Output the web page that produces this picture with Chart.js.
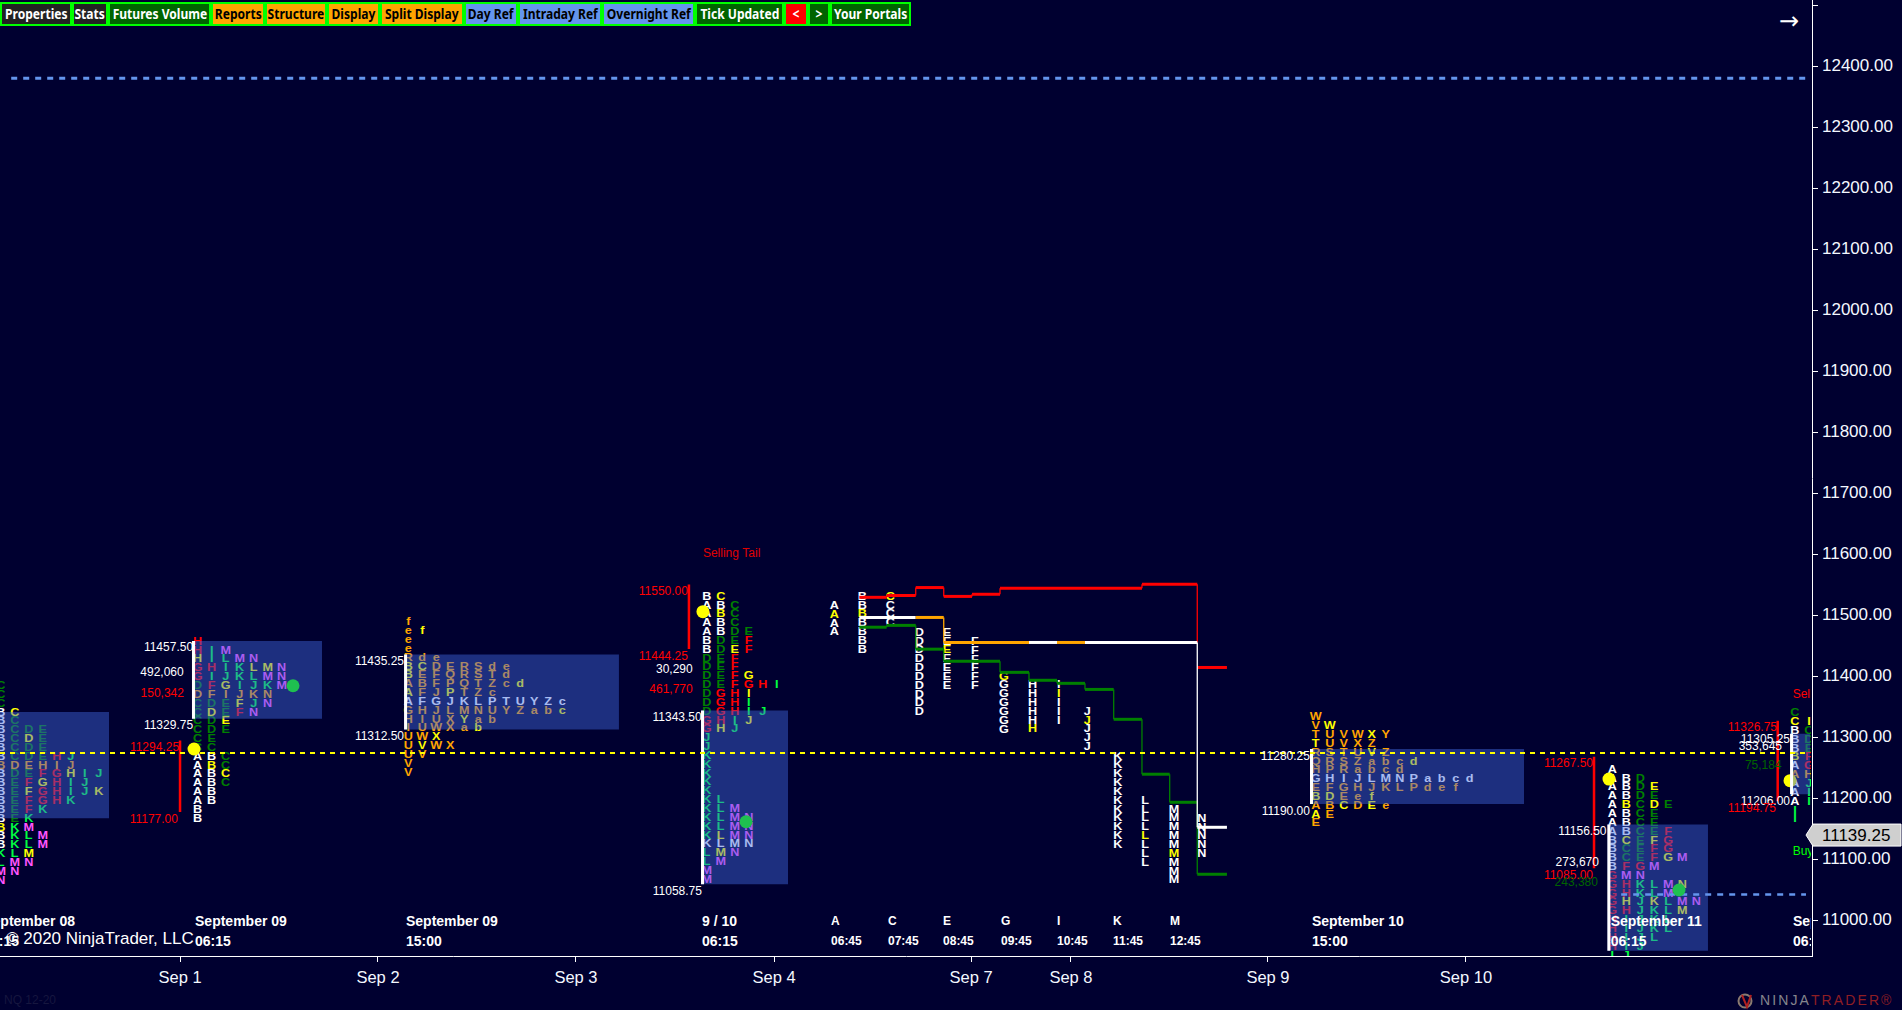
<!DOCTYPE html>
<html>
<head>
<meta charset="utf-8">
<title>NQ 12-20</title>
<script src="https://cdn.jsdelivr.net/npm/chart.js@4"></script>
<style>
  html, body { margin: 0; padding: 0; background: #000030; overflow: hidden; }
  canvas { position: absolute; left: 0; top: 0; }
  #toolbar { position: absolute; left: 0; top: 2px; display: flex; height: 24px; }
  #toolbar div {
    box-sizing: border-box; height: 24px; border: 2px solid #00ff00; text-align: center;
    font: bold 14px/19px "Noto Sans", sans-serif; white-space: nowrap; overflow: hidden;
  }
  #toolbar span { display: inline-block; transform: scaleX(0.86); transform-origin: center; margin: 0 -10px; }
</style>
</head>
<body>
<canvas id="chart" width="1902" height="1010"></canvas>
<div id="toolbar"></div>
<script>
// toolbar
const buttonLabels = ['Properties', 'Stats', 'Futures Volume', 'Reports', 'Structure', 'Display', 'Split Display', 'Day Ref', 'Intraday Ref', 'Overnight Ref', 'Tick Updated', '<', '>', 'Your Portals'];
const buttonWidths = [72, 36, 103, 54, 62, 53, 84, 54, 84, 93, 89, 24, 22, 81];
const buttonFills = ['#222222', '#222222', '#006400', '#ffa500', '#ffa500', '#ffa500', '#ffa500', '#6495ed', '#6495ed', '#6495ed', '#006400', '#ff0000', '#006400', '#006400'];
const buttonInks = ['#fff', '#fff', '#fff', '#000', '#000', '#000', '#000', '#000', '#000', '#000', '#fff', '#fff', '#fff', '#fff'];

// price axis
const priceMin = 10941;
const priceMax = 12508.2;
const lastPrice = 11139.25;

// time axis, one unit is one letter column
const columnMax = 129.43;
const dateLabels = ['Sep 1', 'Sep 2', 'Sep 3', 'Sep 4', 'Sep 7', 'Sep 8', 'Sep 9', 'Sep 10'];
const dateColumns = [12.86, 27, 41.14, 55.29, 69.36, 76.5, 90.57, 104.71];

// letter profiles. ~ white row, ^ orange row, * yellow letter
const sep08Rows = ['C', 'C', 'C', 'B *C', 'B C', 'B C D E', 'B C *D E', 'B C D E', 'B C D E H J', '^ B D E H I J', 'B D E F G *H I J', 'B E F *G H I J', 'B E *F G H I J *K', 'B E F G H K', 'B E F K', 'B E K', '*B K M', 'B K L M', 'B K L M', 'K L *M', 'L M N', 'M N', 'N'];
const sep09DayRows = ['H', 'H I M', '*H I L M N', 'G H I K *L *M N', 'G I J K L M N', 'D F *G I J K M', '^ D F I J K N', 'C D E *F J N', 'C *D E F N', 'C D *E', 'C D E', 'C E', 'C C', 'A B C', 'A *B C', 'A B *C', 'A B C', 'A B', 'A B', 'B', 'B'];
const sep09NightRows = ['f', 'e *f', 'e', 'e', 'R d e', '*B *C D E R S d e', '*B E F Q R S T d', 'A B F P Q T Z c *d', '*A F J *P T Z c', '~ A F G J K L P T U Y Z c', 'G H J L M N U Y Z a b *c', 'H I U X *Y a b', 'I U W X a *b', 'U W *X', 'U *V W X', 'U V', 'V', 'V'];
const sep10DayRows = ['B *C', 'A B C', 'A *B C', 'A B C', 'A B D E', 'B D E F', 'B D *E F', 'D E F', 'D E F', 'D E F *G', 'D E F G H I', 'D G H *I', 'D G H I', 'D G H I J', 'G H I *J', 'G *H J', 'J', 'J', 'K', 'K', 'K', 'K', 'K', 'K L', 'K L M', 'K L M N', 'K L M N', 'K *L M N', '~ K L M N', 'L *M N', 'L M', 'M', 'M'];
const sep10NightRows = ['W', 'V *W', 'T U V W *X Y', '*T U V X Z', 'R S T U *V Z', 'Q R S Z a b c *d', 'H P R a b c d', '~ G H I J L M N P a b c d', 'E F G H J K L P d e f', '*B *D E e *f', 'A B *C D *E e', '*A E', 'E'];
const sep11DayRows = ['A', 'A B D', 'A B D *E', 'A B D E', 'A *B C *D E', 'A B C E', 'A B C E', 'A B C E F', 'B *C E *F G', 'B C E F G', 'B C E F *G M', 'B F G M', 'G M N', 'G H K L M *N', 'G H K L M', 'G *H J *K L M N', 'G H J K L *M', 'H I J K L', 'H I J K L', 'H I J L', 'H I J', 'I J'];
const sep11LastRows = ['C', '*C *I', 'B C', 'B D', 'B E', '*B F', 'A G', '^ A H', 'A J', 'A I', 'A I', 'I', 'I'];

const profileRows = [sep08Rows, sep09DayRows, sep09NightRows, sep10DayRows, sep10NightRows, sep11DayRows, sep11LastRows];
const profileColumns = [0.05, 14.12, 29.16, 50.48, 93.98, 115.16, 128.21];
const profileTops = [11383.6, 11456.2, 11488, 11530, 11332.3, 11246.3, 11339];
const profileNight = [false, false, true, false, true, false, false];
const rowStep = 14.5;

// single column half hour profile
const splitLetters = ['A', 'B', 'C', 'D', 'E', 'F', 'G', 'H', 'I', 'J', 'K', 'L', 'M', 'N'];
const splitColumns = [59.59, 61.59, 63.59, 65.66, 67.64, 69.64, 71.71, 73.76, 75.62, 77.66, 79.84, 81.79, 83.86, 85.84];
const splitTops = [11515, 11530, 11530, 11471, 11471, 11456, 11399, 11385, 11385, 11341.5, 11268, 11195.6, 11181, 11166];
const splitCounts = [4, 7, 4, 10, 7, 6, 7, 6, 5, 5, 11, 8, 9, 5];
const splitYellow = [1, 2, 0, -1, 2, -1, 0, 5, 1, 1, -1, 4, 5, -1];

// value areas
const areaLeft = [-1, 13.71, 28.86, 50.07, 93.57, 114.81, 127.86];
const areaRight = [7.79, 23, 44.21, 56.29, 108.86, 122, 129.29];
const areaHigh = [11341, 11457.5, 11435.25, 11343.5, 11280.25, 11156.5, 11305.25];
const areaLow = [11167, 11329.75, 11312.5, 11058.75, 11190, 10949.5, 11206];

// tails
const tailColumns = [12.86, 49.21, 113.86, 126.98];
const tailHigh = [11294.25, 11550, 11267.5, 11326.75];
const tailLow = [11177, 11444.25, 11085, 11194.75];

// markers
const openColumns = [13.86, 50.21, 114.93, 127.86];
const openPrices = [11280.3, 11505.4, 11231.1, 11228.4];
const pocColumns = [20.93, 53.29, 119.93];
const pocPrices = [11384, 11161.1, 11049.2];

// reference levels
const yellowLevel = 11273.8;
const blueLevel = 12380;
const overnightLevel = 11042;

// stepped lines over the split profile
const highEdges = [61.38, 63.33, 65.41, 67.41, 69.43, 71.43, 81.57];
const highPrices = [11529, 11532, 11545, 11530.5, 11534, 11544];
const highTopEdges = [81.57, 85.52, 85.52];
const highLastEdges = [85.52, 87.64];
const highLastPrices = [11414];
const highTopPrice = 11550.5;
const lowEdges = [61.38, 63.33, 65.41, 67.41, 71.43, 73.5, 75.5, 77.5, 79.55, 81.57, 83.55, 85.52, 87.64];
const lowPrices = [11480, 11483, 11444, 11424, 11406, 11393, 11388, 11378, 11329, 11239, 11193, 11075];
const midEdges = [61.38, 65.41, 67.41, 73.5, 75.5, 77.5, 85.52, 87.64];
const midPrices = [11496, 11496, 11455, 11455, 11455, 11455, 11152];
const midColors = ['#ffffff', '#ffa500', '#ffa500', '#ffffff', '#ffa500', '#ffffff', '#ffffff'];

// text
const noteTexts = ['11457.50', '492,060', '150,342', '11329.75', '11294.25', '11177.00', '11435.25', '11312.50', '11550.00', '11444.25', '30,290', '461,770', '11343.50', '11058.75', '11280.25', '11190.00', '11267.50', '11156.50', '273,670', '11085.00', '243,380', '11326.75', '11305.25', '353,645', '75,184', '11206.00', '11194.75'];
const noteColumns = [13.79, 13.12, 13.14, 13.79, 12.79, 12.71, 28.86, 28.86, 49.14, 49.14, 49.48, 49.48, 50.12, 50.14, 93.57, 93.57, 113.79, 114.75, 114.21, 113.79, 114.14, 126.93, 127.86, 127.29, 127.26, 127.86, 126.86];
const notePrices = [11446.4, 11405, 11371.6, 11318.5, 11282.5, 11164.4, 11423, 11300, 11538.2, 11431.6, 11411, 11378.2, 11331.6, 11046.4, 11267.2, 11177.5, 11256.2, 11144.3, 11093.4, 11072.6, 11060.7, 11315.2, 11295.1, 11284.1, 11252.5, 11193.9, 11182];
const noteColors = ['#fff', '#fff', '#f00', '#fff', '#f00', '#f00', '#fff', '#fff', '#f00', '#f00', '#fff', '#f00', '#fff', '#fff', '#fff', '#fff', '#f00', '#fff', '#fff', '#f00', '#006400', '#f00', '#fff', '#fff', '#006400', '#fff', '#f00'];
const tailTexts = ['Selling Tail', 'Selling Tail', 'Buying Tail'];
const tailTextColumns = [50.21, 128.05, 128.05];
const tailTextPrices = [11600, 11368.9, 11112];
const tailTextColors = ['#e00000', '#ff0000', '#00ff00'];
const sessionTitles = ['September 08', 'September 09', 'September 09', '9 / 10', 'September 10', 'September 11', 'September 11'];
const sessionTimes = ['06:15', '06:15', '15:00', '06:15', '15:00', '06:15', '06:15'];
const sessionColumns = [-1.2, 13.93, 29, 50.14, 93.71, 115.05, 128.07];
const splitAxisLetters = ['A', 'C', 'E', 'G', 'I', 'K', 'M'];
const splitAxisTimes = ['06:45', '07:45', '08:45', '09:45', '10:45', '11:45', '12:45'];
const splitAxisColumns = [59.36, 63.43, 67.36, 71.5, 75.5, 79.5, 83.57];

const background = '#000030';
const dayColors = { A: '#ffffff', B: '#ffffff', C: '#008000', D: '#008000', E: '#008000', F: '#ff0000', G: '#ff0000', H: '#ff0000', I: '#00ff40', J: '#00ff40', K: '#00ff40', L: '#00ff40', M: '#ff55ff', N: '#ff55ff' };

const toolbar = document.getElementById('toolbar');
buttonLabels.forEach((label, i) => {
    const b = document.createElement('div');
    const s = document.createElement('span');
    s.textContent = label;
    b.appendChild(s);
    b.style.width = buttonWidths[i] + 'px';
    b.style.background = buttonFills[i];
    b.style.color = buttonInks[i];
    toolbar.appendChild(b);
});

// edges and prices -> points of a stepped line
function stepPoints(edges, prices) {
    const pts = [];
    prices.forEach((p, i) => {
        pts.push({ x: edges[i], y: p });
        pts.push({ x: edges[i + 1], y: p });
    });
    return pts;
}

function stepWidth(ctx) {
    return ctx.p0.parsed.x === ctx.p1.parsed.x ? 1.3 : 3;
}

function letterColor(letter, night, rowMark, yellow) {
    if (yellow) return '#ffff00';
    if (rowMark === '~') return '#ffffff';
    if (rowMark === '^') return '#ffa500';
    return night ? '#ffa500' : dayColors[letter];
}

// the letters are a bit wider than the font
function drawLetter(c, letter, x, y) {
    c.save();
    c.translate(x, y);
    c.scale(1.15, 1);
    c.fillText(letter, 0, 0);
    c.restore();
}

const profilePlugin = {
    id: 'profile',
    beforeDraw(chart) {
        const c = chart.ctx;
        c.save();
        c.fillStyle = background;
        c.fillRect(0, 0, chart.width, chart.height);
        c.restore();
    },
    // letters sit under the value areas
    beforeDatasetsDraw(chart) {
        const c = chart.ctx, xs = chart.scales.x, ys = chart.scales.y, area = chart.chartArea;
        c.save();
        c.beginPath();
        c.rect(0, 0, area.right - 1, area.bottom);
        c.clip();
        c.font = 'bold 11px "Liberation Sans"';
        c.textAlign = 'center';
        c.textBaseline = 'middle';
        profileRows.forEach((rows, p) => {
            rows.forEach((row, r) => {
                let tokens = row.split(' ');
                let mark = '';
                if (tokens[0] === '~' || tokens[0] === '^') mark = tokens.shift();
                tokens.forEach((t, col) => {
                    const yellow = t[0] === '*';
                    const letter = yellow ? t[1] : t;
                    c.fillStyle = letterColor(letter, profileNight[p], mark, yellow);
                    drawLetter(c, letter, xs.getPixelForValue(profileColumns[p] + col), ys.getPixelForValue(profileTops[p] - r * rowStep));
                });
            });
        });
        splitLetters.forEach((letter, i) => {
            for (let r = 0; r < splitCounts[i]; r++) {
                c.fillStyle = r === splitYellow[i] ? '#ffff00' : '#ffffff';
                drawLetter(c, letter, xs.getPixelForValue(splitColumns[i]), ys.getPixelForValue(splitTops[i] - r * rowStep));
            }
        });
        c.restore();
    },
    afterDatasetsDraw(chart) {
        const c = chart.ctx, xs = chart.scales.x, ys = chart.scales.y, area = chart.chartArea;
        c.save();
        c.beginPath();
        c.rect(0, 0, area.right - 1, area.bottom);
        c.clip();
        c.textBaseline = 'middle';

        c.font = '12px "Liberation Sans"';
        c.textAlign = 'right';
        noteTexts.forEach((t, i) => {
            c.fillStyle = noteColors[i];
            c.fillText(t, xs.getPixelForValue(noteColumns[i]), ys.getPixelForValue(notePrices[i]));
        });
        c.textAlign = 'left';
        tailTexts.forEach((t, i) => {
            c.fillStyle = tailTextColors[i];
            c.fillText(t, xs.getPixelForValue(tailTextColumns[i]), ys.getPixelForValue(tailTextPrices[i]));
        });

        c.fillStyle = '#ffffff';
        c.font = '17px "Liberation Sans"';
        c.fillText('© 2020 NinjaTrader, LLC', 6, 939);

        c.font = 'bold 14px "Liberation Sans"';
        sessionTitles.forEach((t, i) => {
            const x = xs.getPixelForValue(sessionColumns[i]);
            c.fillText(t, x, 922);
            c.fillText(sessionTimes[i], x, 942);
        });
        c.font = 'bold 12px "Liberation Sans"';
        splitAxisLetters.forEach((t, i) => {
            const x = xs.getPixelForValue(splitAxisColumns[i]);
            c.fillText(t, x, 922);
            c.fillText(splitAxisTimes[i], x, 942);
        });
        c.restore();
    },
    afterDraw(chart) {
        const c = chart.ctx, ys = chart.scales.y;
        c.save();
        // last price marker
        const y = ys.getPixelForValue(lastPrice);
        c.beginPath();
        c.moveTo(1806, y);
        c.lineTo(1813, y - 11);
        c.lineTo(1901, y - 11);
        c.lineTo(1901, y + 11);
        c.lineTo(1813, y + 11);
        c.closePath();
        c.fillStyle = '#cfcfcf';
        c.fill();
        c.strokeStyle = '#ffffff';
        c.lineWidth = 1;
        c.stroke();
        c.fillStyle = '#000000';
        c.font = '17px "Liberation Sans"';
        c.textBaseline = 'middle';
        c.textAlign = 'left';
        c.fillText(lastPrice.toFixed(2), 1822, y + 1);

        // corner texts
        c.font = '24px "DejaVu Sans"';
        c.fillStyle = '#ffffff';
        c.textAlign = 'center';
        c.fillText('→', 1789, 23);
        c.textAlign = 'left';
        c.font = '12px "Liberation Sans"';
        c.fillStyle = '#16163f';
        c.fillText('NQ 12-20', 4, 1001);

        // logo
        c.beginPath();
        c.arc(1745, 1001, 6.5, 0, Math.PI * 2);
        c.strokeStyle = '#8a7a70';
        c.lineWidth = 2;
        c.stroke();
        c.beginPath();
        c.moveTo(1742, 995);
        c.lineTo(1747, 1007);
        c.lineTo(1751, 995);
        c.strokeStyle = '#b02020';
        c.stroke();
        c.font = '14px "Liberation Sans"';
        c.letterSpacing = '2.1px';
        c.fillStyle = '#85858c';
        c.fillText('NINJA', 1760, 1001);
        const w = c.measureText('NINJA').width;
        c.fillStyle = '#8f1e24';
        c.fillText('TRADER®', 1760 + w, 1001);
        c.restore();
    }
};

const canvas = document.getElementById('chart');
canvas.getContext('2d', { alpha: false });

const datasets = [];

function addLine(points, color, width, order, extra) {
    datasets.push(Object.assign({
        data: points, showLine: true, borderColor: color, borderWidth: width,
        pointRadius: 0, order: order, fill: false, tension: 0
    }, extra || {}));
}

// value areas over the letters
areaLeft.forEach((left, i) => {
    addLine([{ x: left, y: areaHigh[i] }, { x: areaRight[i], y: areaHigh[i] }], 'transparent', 0, 50, {
        backgroundColor: 'rgba(65,105,225,0.45)',
        fill: { value: areaLow[i] }
    });
    if (i > 0) {
        addLine([{ x: left + 0.11, y: areaHigh[i] }, { x: left + 0.11, y: areaLow[i] }], '#ffffff', 3, 20);
    }
});

tailColumns.forEach((x, i) => {
    addLine([{ x: x, y: tailHigh[i] }, { x: x, y: tailLow[i] }], '#ff0000', 2.5, 20);
});

// reference levels
addLine([{ x: 0, y: yellowLevel }, { x: 129.2, y: yellowLevel }], '#ffff00', 2, 10, { borderDash: [5, 5] });
addLine([{ x: 0.8, y: blueLevel }, { x: 129, y: blueLevel }], '#6495ed', 3, 10, { borderDash: [6, 6] });
addLine([{ x: 115.8, y: overnightLevel }, { x: 129, y: overnightLevel }], '#6495ed', 2.5, 10, { borderDash: [6, 6] });

// stepped lines
addLine(stepPoints(highEdges, highPrices).concat(
    { x: highTopEdges[0], y: highPrices[highPrices.length - 1] },
    { x: highTopEdges[0], y: highTopPrice },
    { x: highTopEdges[1], y: highTopPrice },
    { x: highTopEdges[2], y: midPrices[5] }
), '#ff0000', 3, 30, { segment: { borderWidth: stepWidth } });
addLine(stepPoints(highLastEdges, highLastPrices), '#ff0000', 3, 30);
addLine(stepPoints(lowEdges, lowPrices), '#008000', 3, 30, { segment: { borderWidth: stepWidth } });
const midPoints = stepPoints(midEdges, midPrices);
addLine(midPoints, '#ffffff', 3, 29, {
    segment: {
        borderWidth: stepWidth,
        borderColor: ctx => midColors[Math.floor(ctx.p0DataIndex / 2)]
    }
});

// markers, the open dots stay under the value areas
datasets.push({
    data: openColumns.map((x, i) => ({ x: x, y: openPrices[i] })),
    pointRadius: 6.5, pointBackgroundColor: '#ffff00', pointBorderWidth: 0, order: 60
});
datasets.push({
    data: pocColumns.map((x, i) => ({ x: x, y: pocPrices[i] })),
    pointRadius: 6.5, pointBackgroundColor: '#1fc050', pointBorderWidth: 0, pointStyle: 'circle', order: 5
});

new Chart(canvas, {
    type: 'scatter',
    data: { datasets: datasets },
    plugins: [profilePlugin],
    options: {
        responsive: false,
        animation: false,
        events: [],
        layout: { padding: 0, autoPadding: false },
        plugins: { legend: { display: false }, tooltip: { enabled: false } },
        scales: {
            x: {
                type: 'linear',
                min: 0,
                max: columnMax,
                border: { color: '#ffffff', width: 1 },
                grid: { drawOnChartArea: false, drawTicks: true, tickLength: 6, color: '#ffffff' },
                afterBuildTicks: scale => { scale.ticks = dateColumns.map(v => ({ value: v })); },
                afterFit: scale => { scale.height = 54; scale.paddingLeft = 0; scale.paddingRight = 0; },
                ticks: {
                    autoSkip: false,
                    maxRotation: 0,
                    color: '#f4f8ff',
                    padding: 7,
                    font: { family: 'Liberation Sans', size: 16.5 },
                    callback: (value, index) => dateLabels[index]
                }
            },
            y: {
                type: 'linear',
                position: 'right',
                min: priceMin,
                max: priceMax,
                border: { color: '#ffffff', width: 1 },
                grid: { drawOnChartArea: false, drawTicks: true, tickLength: 6, color: '#ffffff' },
                afterFit: scale => { scale.width = 90; scale.paddingTop = 0; scale.paddingBottom = 0; },
                ticks: {
                    stepSize: 100,
                    autoSkip: false,
                    includeBounds: false,
                    color: '#f4f8ff',
                    padding: 4,
                    font: { family: 'Liberation Sans', size: 17 },
                    callback: value => (value > 12400 ? '' : value.toFixed(2))
                }
            }
        }
    }
});
</script>
</body>
</html>
